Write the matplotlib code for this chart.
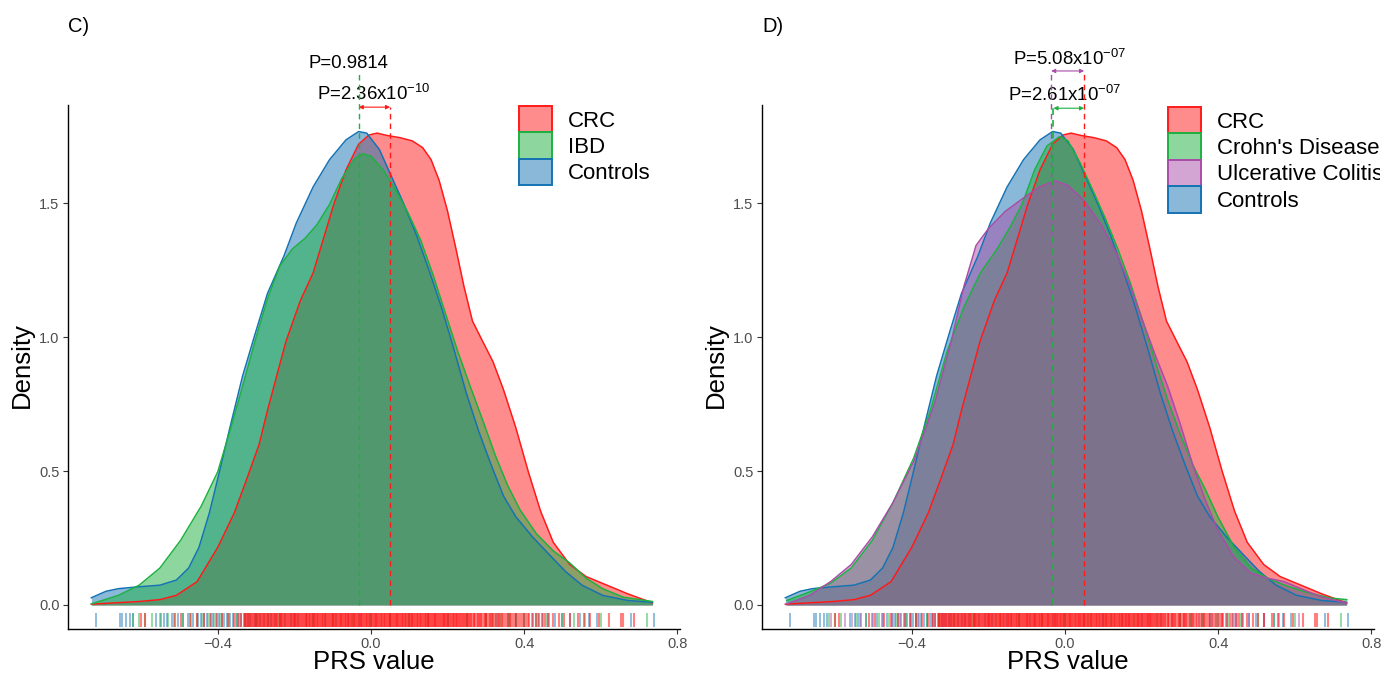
import matplotlib
matplotlib.use("Agg")
import matplotlib.pyplot as plt
from matplotlib.patches import Patch
from matplotlib.transforms import Bbox

plt.rcParams['font.family'] = ['Liberation Sans', 'DejaVu Sans']
plt.rcParams['mathtext.fontset'] = 'custom'
plt.rcParams['mathtext.rm'] = 'Liberation Sans'
plt.rcParams['mathtext.it'] = 'Liberation Sans:italic'
plt.rcParams['mathtext.bf'] = 'Liberation Sans:bold'

# ---------------- data ----------------
crc_x = [-0.730, -0.605, -0.551, -0.508, -0.454, -0.400, -0.357, -0.324, -0.292, -0.270, -0.222, -0.184,
         -0.151, -0.124, -0.097, -0.065, -0.032, -0.005, 0.016, 0.043, 0.076, 0.108, 0.135, 0.157, 0.178,
         0.200, 0.222, 0.243, 0.265, 0.292, 0.319, 0.346, 0.378, 0.411, 0.443, 0.476, 0.519, 0.562, 0.616,
         0.670, 0.735]
crc_y = [0.003, 0.013, 0.020, 0.036, 0.087, 0.215, 0.343, 0.471, 0.599, 0.727, 0.983, 1.137,
         1.239, 1.367, 1.495, 1.624, 1.720, 1.754, 1.761, 1.752, 1.744, 1.732, 1.707, 1.662, 1.585,
         1.470, 1.329, 1.188, 1.060, 0.983, 0.907, 0.804, 0.663, 0.497, 0.350, 0.234, 0.151, 0.106, 0.074,
         0.042, 0.008]

ctrl_x = [-0.730, -0.692, -0.659, -0.605, -0.551, -0.508, -0.476, -0.449, -0.422, -0.400, -0.368, -0.335,
          -0.303, -0.270, -0.227, -0.195, -0.151, -0.108, -0.065, -0.032, -0.011, 0.022, 0.054, 0.086,
          0.119, 0.151, 0.184, 0.216, 0.249, 0.281, 0.314, 0.346, 0.378, 0.422, 0.465, 0.508, 0.551,
          0.605, 0.670, 0.735]
ctrl_y = [0.027, 0.051, 0.061, 0.068, 0.074, 0.093, 0.138, 0.215, 0.343, 0.471, 0.663, 0.855,
          1.009, 1.163, 1.303, 1.425, 1.560, 1.662, 1.736, 1.767, 1.761, 1.700, 1.598, 1.496,
          1.380, 1.252, 1.111, 0.958, 0.791, 0.650, 0.522, 0.407, 0.330, 0.254, 0.189, 0.125, 0.074,
          0.036, 0.017, 0.010]

ibd_x = [-0.730, -0.659, -0.605, -0.551, -0.497, -0.443, -0.400, -0.368, -0.335, -0.303, -0.270, -0.238,
         -0.205, -0.173, -0.141, -0.108, -0.076, -0.043, -0.022, 0.000, 0.032, 0.065, 0.097, 0.130,
         0.162, 0.195, 0.227, 0.259, 0.292, 0.324, 0.357, 0.389, 0.432, 0.476, 0.519, 0.562, 0.605,
         0.659, 0.735]
ibd_y = [0.004, 0.036, 0.074, 0.138, 0.241, 0.369, 0.497, 0.650, 0.817, 0.983, 1.143, 1.265,
         1.329, 1.367, 1.419, 1.495, 1.592, 1.665, 1.684, 1.675, 1.624, 1.547, 1.463, 1.361,
         1.233, 1.086, 0.945, 0.817, 0.689, 0.561, 0.446, 0.356, 0.266, 0.202, 0.157, 0.100, 0.061,
         0.029, 0.013]

cd_x = [-0.726, -0.666, -0.612, -0.558, -0.503, -0.449, -0.395, -0.351, -0.308, -0.264, -0.221, -0.177,
        -0.145, -0.112, -0.079, -0.047, -0.014, 0.008, 0.040, 0.073, 0.105, 0.138, 0.171, 0.203, 0.236,
        0.268, 0.301, 0.334, 0.366, 0.399, 0.442, 0.486, 0.529, 0.573, 0.627, 0.692, 0.736]
cd_y = [0.017, 0.049, 0.081, 0.138, 0.241, 0.382, 0.548, 0.727, 0.945, 1.111, 1.239, 1.329,
        1.406, 1.495, 1.624, 1.713, 1.748, 1.732, 1.649, 1.547, 1.444, 1.329, 1.201, 1.060, 0.907,
        0.766, 0.638, 0.522, 0.433, 0.330, 0.215, 0.138, 0.100, 0.074, 0.049, 0.026, 0.020]

uc_x = [-0.726, -0.666, -0.612, -0.558, -0.503, -0.449, -0.395, -0.340, -0.297, -0.264, -0.232, -0.199,
        -0.155, -0.112, -0.068, -0.025, 0.008, 0.051, 0.095, 0.138, 0.171, 0.203, 0.236, 0.268, 0.301,
        0.334, 0.366, 0.399, 0.442, 0.486, 0.529, 0.573, 0.616, 0.671, 0.736]
uc_y = [0.004, 0.036, 0.087, 0.151, 0.254, 0.382, 0.535, 0.753, 0.983, 1.188, 1.342, 1.406,
        1.470, 1.515, 1.560, 1.583, 1.566, 1.508, 1.419, 1.303, 1.188, 1.060, 0.932, 0.817, 0.676,
        0.522, 0.394, 0.279, 0.177, 0.119, 0.100, 0.087, 0.061, 0.029, 0.008]

# rug positions
crc_rug = [-0.600, -0.590, -0.512, -0.497, -0.472, -0.455, -0.437, -0.418, -0.402, -0.388, -0.372, -0.358,
           -0.347, -0.338,
           -0.331, -0.326, -0.322, -0.315, -0.311, -0.304, -0.300, -0.296, -0.289, -0.285, -0.279, -0.274,
           -0.270, -0.264, -0.259, -0.253, -0.249, -0.244, -0.238, -0.235, -0.229, -0.224, -0.219, -0.215,
           -0.210, -0.204, -0.199, -0.195, -0.190, -0.185, -0.181, -0.176, -0.170, -0.166, -0.161, -0.157,
           -0.152, -0.147, -0.142, -0.138, -0.133, -0.128, -0.124, -0.119, -0.114, -0.110, -0.105, -0.100,
           -0.096, -0.091, -0.087, -0.082, -0.077, -0.073, -0.068, -0.064, -0.059, -0.054, -0.050, -0.045,
           -0.041, -0.036, -0.032, -0.027, -0.023, -0.018, -0.013, -0.009, -0.004, 0.001, 0.005, 0.010,
           0.014, 0.019, 0.023, 0.028, 0.033, 0.037, 0.042, 0.046, 0.051, 0.055, 0.060, 0.065, 0.069,
           0.074, 0.078, 0.083, 0.088, 0.092, 0.097, 0.101, 0.106, 0.111, 0.115, 0.120, 0.124, 0.129,
           0.134, 0.138, 0.143, 0.148, 0.152, 0.157, 0.161, 0.166, 0.171, 0.175, 0.180, 0.185, 0.190,
           0.194, 0.199, 0.204, 0.209, 0.213, 0.218, 0.223, 0.228, 0.233, 0.238, 0.243, 0.248, 0.254,
           0.259, 0.265, 0.270, 0.276, 0.282, 0.288, 0.294, 0.300, 0.307, 0.313, 0.320, 0.327, 0.334,
           0.342, 0.350, 0.358, 0.366, 0.375, 0.384, 0.394, 0.404, 0.414,
           -0.329, -0.324, -0.318, -0.313, -0.307, -0.302, -0.298, -0.292, -0.287, -0.282, -0.276, -0.272,
           -0.267, -0.261, -0.256, -0.251, -0.246, -0.241, -0.236, -0.232, -0.227, -0.221, -0.217, -0.212,
           -0.207, -0.202, -0.197, -0.192, -0.188, -0.183, -0.178, -0.173, -0.168, -0.163, -0.159, -0.154,
           -0.149, -0.145, -0.140, -0.135, -0.131, -0.126, -0.121, -0.117, -0.112, -0.107, -0.102, -0.098,
           -0.093, -0.089, -0.084, -0.079, -0.075, -0.070, -0.066, -0.061, -0.057, -0.052, -0.047, -0.043,
           -0.038, -0.034, -0.029, -0.025, -0.020, -0.015, -0.011, -0.006, -0.002, 0.003, 0.008, 0.012,
           0.017, 0.021, 0.026, 0.030, 0.035, 0.040, 0.044, 0.049, 0.053, 0.058, 0.062, 0.067, 0.071,
           0.076, 0.081, 0.085, 0.090, 0.094, 0.099, 0.104, 0.108, 0.113, 0.118, 0.122, 0.127, 0.131,
           0.136, 0.141, 0.145, 0.150, 0.155, 0.159, 0.164, 0.168, 0.173, 0.178, 0.182, 0.187, 0.192,
           0.197, 0.201, 0.206, 0.211, 0.216, 0.221, 0.225, 0.231, 0.236, 0.241, 0.246, 0.251, 0.257,
           0.262, 0.268, 0.273, 0.279, 0.285, 0.291, 0.297, 0.303, 0.310, 0.317, 0.324, 0.331, 0.338,
           0.346, 0.354, 0.362, 0.370, 0.380, 0.389, 0.399, 0.409,
           0.422, 0.430, 0.438, 0.447, 0.454, 0.463, 0.476, 0.492, 0.505, 0.519, 0.541, 0.557, 0.573,
           0.595, 0.622, 0.654, 0.659, 0.686]

ctrl_rug = [-0.718, -0.655, -0.651, -0.640, -0.628, -0.620, -0.560, -0.548, -0.540, -0.532, -0.520, -0.505,
            -0.490, -0.478, -0.465, -0.452, -0.444, -0.436, -0.428, -0.420, -0.412, -0.405, -0.398, -0.390,
            -0.383, -0.375, -0.368, -0.360, -0.352, -0.345, -0.338, -0.330, -0.322, -0.315, -0.306, -0.298,
            -0.290, -0.280, -0.270, -0.262, -0.250, -0.238, -0.225, -0.210, -0.190, -0.170, -0.150, -0.120,
            -0.090, -0.060, -0.030, 0.000, 0.050, 0.100, 0.150, 0.200, 0.250, 0.300, 0.330, 0.360, 0.380,
            0.400, 0.420, 0.435, 0.450, 0.465, 0.480, 0.500, 0.520, 0.545, 0.570, 0.590, 0.680, 0.738]

ibd_rug = [-0.620, -0.605, -0.590, -0.572, -0.550, -0.530, -0.515, -0.490, -0.470, -0.455, -0.440, -0.425,
           -0.410, -0.395, -0.370, -0.350, -0.330, -0.300, -0.270, -0.240, -0.200, -0.150, -0.100, -0.050,
           0.000, 0.050, 0.100, 0.150, 0.200, 0.250, 0.300, 0.320, 0.340, 0.360, 0.380, 0.400, 0.430,
           0.460, 0.500, 0.530, 0.560, 0.600, 0.720]

cd_rug = [-0.615, -0.600, -0.585, -0.545, -0.520, -0.485, -0.460, -0.440, -0.415, -0.390, -0.360, -0.330,
          -0.290, -0.240, -0.180, -0.120, -0.060, 0.000, 0.060, 0.120, 0.180, 0.240, 0.300, 0.330, 0.360,
          0.395, 0.425, 0.460, 0.505, 0.545, 0.600, 0.720]

uc_rug = [-0.610, -0.575, -0.555, -0.535, -0.500, -0.475, -0.450, -0.430, -0.405, -0.380, -0.345, -0.310,
          -0.260, -0.200, -0.140, -0.080, -0.020, 0.040, 0.100, 0.160, 0.220, 0.280, 0.310, 0.350, 0.385,
          0.410, 0.445, 0.480, 0.520, 0.560, 0.610]

# group colours
RED = '#FF1A1A'
GREEN = '#1DB141'
BLUE = '#1573B3'
PURPLE = '#A94DA9'

left_groups = [  # (label, x, y, rug, colour) in drawing order
    ('CRC', crc_x, crc_y, crc_rug, RED),
    ('Controls', ctrl_x, ctrl_y, ctrl_rug, BLUE),
    ('IBD', ibd_x, ibd_y, ibd_rug, GREEN),
]
left_legend = ['CRC', 'IBD', 'Controls']

right_groups = [
    ('CRC', crc_x, crc_y, crc_rug, RED),
    ('Controls', ctrl_x, ctrl_y, ctrl_rug, BLUE),
    ("Crohn's Disease", cd_x, cd_y, cd_rug, GREEN),
    ('Ulcerative Colitis', uc_x, uc_y, uc_rug, PURPLE),
]
right_legend = ['CRC', "Crohn's Disease", 'Ulcerative Colitis', 'Controls']

x_ticks = [-0.4, 0.0, 0.4, 0.8]
x_tick_labels = ['\u22120.4', '0.0', '0.4', '0.8']
y_ticks = [0.0, 0.5, 1.0, 1.5]
y_tick_labels = ['0.0', '0.5', '1.0', '1.5']

# median lines / p-value annotations
left_medians = {'IBD': -0.032, 'CRC': 0.050}
right_medians = {'UC': -0.036, 'CD': -0.030, 'CRC': 0.050}

W, H = 1395, 673
fig = plt.figure(figsize=(W / 100, H / 100), dpi=100)


def px_rect(x0, x1, ytop, ybot):
    return [x0 / W, 1 - ybot / H, (x1 - x0) / W, (ybot - ytop) / H]


XLIM = (-0.791, 0.807)
YLIM = (-0.0896, 1.866)
RUG_TOP, RUG_BOT = -0.030, -0.083


def style_axes(ax):
    ax.set_xlim(*XLIM)
    ax.set_ylim(*YLIM)
    for s in ['top', 'right']:
        ax.spines[s].set_visible(False)
    for s in ['left', 'bottom']:
        ax.spines[s].set_linewidth(1.0)
        ax.spines[s].set_color('black')
    ax.set_xticks(x_ticks)
    ax.set_xticklabels(x_tick_labels)
    ax.set_yticks(y_ticks)
    ax.set_yticklabels(y_tick_labels)
    ax.tick_params(axis='both', length=3.6, width=0.8, color='#333333',
                   labelcolor='#4D4D4D', labelsize=10.5, pad=2.5)


def draw_panel(ax, groups):
    for label, xs, ys, rug, col in groups:
        ax.fill_between(xs, 0, ys, color=col, alpha=0.5, lw=0, zorder=2)
        ax.plot(xs, ys, color=col, lw=1.1, zorder=3)
    # rugs: others first, CRC on top
    order = groups[1:] + groups[:1]
    for label, xs, ys, rug, col in order:
        lw = 1.5 if label == 'CRC' else 1.2
        ax.vlines(rug, RUG_TOP, RUG_BOT, colors=col, alpha=0.55, lw=lw, zorder=2)


def legend(ax, labels, colours, anchor, clip_px=None):
    handles = [Patch(facecolor=matplotlib.colors.to_rgba(c, 0.5),
                     edgecolor=matplotlib.colors.to_rgba(c, 1.0), lw=1.4) for c in colours]
    leg = ax.legend(handles, labels, loc='upper left', bbox_to_anchor=anchor, frameon=False,
                    borderpad=0, borderaxespad=0, handlelength=1.5, handleheight=1.45,
                    labelspacing=0, handletextpad=0.7, fontsize=16)
    if clip_px is not None:
        bb = Bbox.from_extents(0, 0, clip_px, H)
        for t in leg.get_texts():
            t.set_clip_box(bb)
            t.set_clip_on(True)
    return leg


PFS = 13.4
DASH = (0, (4, 3))

# ---------- left panel C ----------
axL = fig.add_axes(px_rect(68, 680, 105, 629))
style_axes(axL)
draw_panel(axL, left_groups)
col_of = {g[0]: g[4] for g in left_groups}
legend(axL, left_legend, [col_of[l] for l in left_legend], (0.737, 0.998))

axL.plot([left_medians['IBD']] * 2, [0, 1.99], color=GREEN, lw=1.0, ls=DASH, clip_on=False, zorder=4)
axL.plot([left_medians['CRC']] * 2, [0, 1.858], color=RED, lw=1.0, ls=DASH, clip_on=False, zorder=4)
axL.annotate('', xy=(left_medians['CRC'], 1.858), xytext=(left_medians['IBD'], 1.858),
             arrowprops=dict(arrowstyle='<|-|>', color=RED, lw=0.8, mutation_scale=6,
                             shrinkA=0, shrinkB=0), annotation_clip=False)
axL.text(-0.060, 2.004, 'P=0.9814', ha='center', va='baseline', fontsize=PFS)
axL.text(0.008, 1.884, r'P=2.36x10$^{\mathregular{-10}}$', ha='center', va='baseline', fontsize=PFS)

# ---------- right panel D ----------
axR = fig.add_axes(px_rect(762, 1374, 105, 629))
style_axes(axR)
draw_panel(axR, right_groups)
col_of = {g[0]: g[4] for g in right_groups}
legend(axR, right_legend, [col_of[l] for l in right_legend], (0.663, 0.996), clip_px=1380)

axR.plot([right_medians['UC']] * 2, [0, 1.993], color=PURPLE, lw=1.0, ls=DASH, clip_on=False, zorder=4)
axR.plot([right_medians['CRC']] * 2, [0, 1.993], color=RED, lw=1.0, ls=DASH, clip_on=False, zorder=4)
axR.plot([right_medians['CD']] * 2, [0, 1.854], color=GREEN, lw=1.2, ls=DASH, clip_on=False, zorder=5)
axR.annotate('', xy=(right_medians['CRC'], 1.993), xytext=(right_medians['UC'], 1.993),
             arrowprops=dict(arrowstyle='<|-|>', color=PURPLE, lw=0.8, mutation_scale=6,
                             shrinkA=0, shrinkB=0), annotation_clip=False)
axR.annotate('', xy=(right_medians['CRC'], 1.854), xytext=(right_medians['CD'], 1.854),
             arrowprops=dict(arrowstyle='<|-|>', color=GREEN, lw=0.8, mutation_scale=6,
                             shrinkA=0, shrinkB=0), annotation_clip=False)
axR.text(0.013, 2.015, r'P=5.08x10$^{\mathregular{-07}}$', ha='center', va='baseline', fontsize=PFS)
axR.text(0.000, 1.880, r'P=2.61x10$^{\mathregular{-07}}$', ha='center', va='baseline', fontsize=PFS)

# ---------- labels ----------
TFS = 18.5
for cx, yx in [(374, 22), (1068, 716)]:
    fig.text(cx / W, 1 - 662 / H, 'PRS value', ha='center', va='center', fontsize=TFS)
    fig.text(yx / W, 1 - 365 / H, 'Density', ha='center', va='center', rotation=90, fontsize=TFS)

fig.text(68 / W, 1 - 26 / H, 'C)', ha='left', va='center', fontsize=14.5)
fig.text(762 / W, 1 - 26 / H, 'D)', ha='left', va='center', fontsize=14.5)

fig.savefig('out.png', dpi=100)
